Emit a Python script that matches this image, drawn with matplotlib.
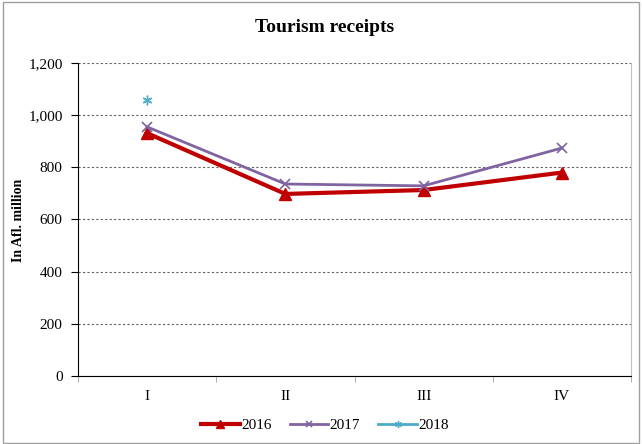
import matplotlib.pyplot as plt
from matplotlib.patches import Rectangle
from matplotlib.ticker import FuncFormatter, MultipleLocator
import numpy as np

quarters = ["I", "II", "III", "IV"]
receipts_2016 = [931, 698, 713, 780]
receipts_2017 = [955, 736, 729, 874]
receipts_2018 = [1058]

plt.rcParams["font.family"] = ["Liberation Serif", "DejaVu Serif"]

fig = plt.figure(figsize=(6.42, 4.44), dpi=100)
ax = fig.add_axes([78 / 642, 1 - 376 / 444, (631 - 78) / 642, (376 - 63) / 444])

x = np.arange(len(quarters))
ax.plot(x, receipts_2016, color="#c00000", lw=3, marker="^", ms=9,
        label="2016", zorder=3)
ax.plot(x, receipts_2017, color="#8064a2", lw=2, marker="x", ms=7,
        mew=1.2, label="2017", zorder=4)
ax.plot(x[:len(receipts_2018)], receipts_2018, color="#4bacc6", lw=2,
        marker=(6, 2, 0), ms=7, mew=1.0, label="2018", zorder=5)

ax.set_xlim(-0.5, len(quarters) - 0.5)
ax.set_ylim(0, 1200)
ax.yaxis.set_major_locator(MultipleLocator(200))
ax.yaxis.set_major_formatter(FuncFormatter(lambda v, _: f"{v:,.0f}"))
ax.set_xticks(x)
ax.set_xticklabels(quarters)
ax.set_xticks(np.arange(-0.5, len(quarters)), minor=True)
ax.tick_params(axis="x", which="major", length=0, pad=10, labelsize=11)
ax.tick_params(axis="x", which="minor", length=4, color="#a0a0a0")
ax.tick_params(axis="y", length=5, labelsize=11, pad=6)

ax.grid(axis="y", color="#606060", linestyle=(0, (2, 2)), lw=0.8)
ax.set_axisbelow(True)
ax.spines["top"].set_visible(False)
ax.spines["right"].set_color("#c0c0c0")
ax.spines["left"].set_color("black")
ax.spines["bottom"].set_color("black")

fig.text(19 / 642, 1 - 220 / 444, "In Afl. million", rotation=90,
         ha="center", va="center", fontsize=10, fontweight="bold")
fig.text(325 / 642, 1 - 27 / 444, "Tourism receipts", ha="center",
         va="center", fontsize=14, fontweight="bold")

fig.legend(loc="center", bbox_to_anchor=(325 / 642, 1 - 425 / 444),
           ncol=3, frameon=False, fontsize=11, handlelength=2.5,
           handletextpad=0.1, columnspacing=1.2, markerscale=0.7)

fig.patches.append(Rectangle((3 / 642, 1 / 444), 636 / 642, 441 / 444,
                             transform=fig.transFigure, fill=False,
                             edgecolor="#a0a0a0", lw=1))

fig.savefig("out.png", dpi=100)
